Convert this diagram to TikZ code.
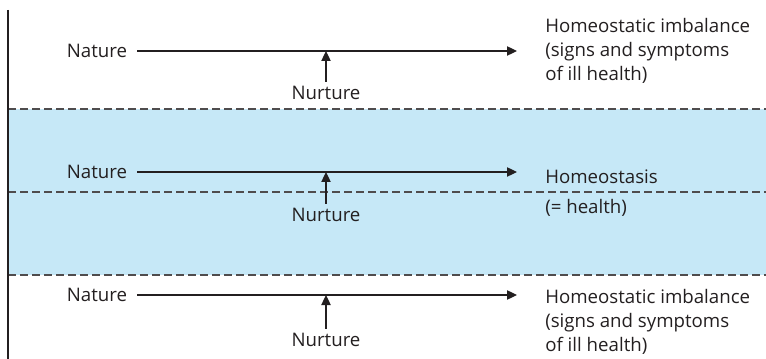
\documentclass[tikz,border=0pt]{standalone}
\usepackage{fontspec}
\setmainfont{Open Sans}
\usetikzlibrary{arrows.meta, positioning}
\definecolor{bandblue}{HTML}{C6E8F7}
\definecolor{inkgrey}{HTML}{231F20}

\begin{document}
\begin{tikzpicture}[x=0.75pt, y=-0.75pt, font=\fontsize{14}{18}\selectfont, cause/.style={
        text=inkgrey,
        inner xsep=7.5pt,
        inner ysep=2pt
    }, nurture/.style={
        text=inkgrey,
        inner xsep=0pt,
        inner ysep=3pt
    }, outcome/.style={
        text=inkgrey,
        anchor=west,
        align=left,
        inner sep=0pt
    }, border/.style={
        dashed, dash pattern=on 6pt off 3pt, draw=inkgrey!80, line width=0.8pt
    }, arrow/.style={
        draw=inkgrey, line width=0.9pt, -{Triangle[length=7.5pt, width=7pt]}
    }]
    \useasboundingbox (0,0) rectangle (766,359);
    % healthy band
    \fill[bandblue] (8,109) rectangle (766,275);
    \draw[border] (8,109) -- (766,109);
    \draw[border] (8,192) -- (766,192);
    \draw[border] (8,275) -- (766,275);
    \draw[inkgrey, line width=1pt] (8,10) -- (8,359);

    % top row
    \node (nat1) [cause] at (97,51) {Nature};
    \coordinate (join1) at (326,51);
    \coordinate (tip1) at (517,51);
    \node (nur1) [nurture] at (326,93) {Nurture};
    \node (out1) [outcome] at (545,51) {Homeostatic imbalance\\(signs and symptoms\\of ill health)};
    \draw [arrow] (nat1.east) -- (tip1);
    \draw [arrow] (nur1.north) -- (join1);

    % middle row
    \node (nat2) [cause] at (97,172) {Nature};
    \coordinate (join2) at (326,172);
    \coordinate (tip2) at (517,172);
    \node (nur2) [nurture] at (326,215) {Nurture};
    \node (out2) [outcome] at (545,193) {Homeostasis\\[4pt](= health)};
    \draw [arrow] (nat2.east) -- (tip2);
    \draw [arrow] (nur2.north) -- (join2);

    % bottom row
    \node (nat3) [cause] at (97,295) {Nature};
    \coordinate (join3) at (326,295);
    \coordinate (tip3) at (517,295);
    \node (nur3) [nurture] at (326,340) {Nurture};
    \node (out3) [outcome] at (545,322) {Homeostatic imbalance\\(signs and symptoms\\of ill health)};
    \draw [arrow] (nat3.east) -- (tip3);
    \draw [arrow] (nur3.north) -- (join3);

\end{tikzpicture}
\end{document}
